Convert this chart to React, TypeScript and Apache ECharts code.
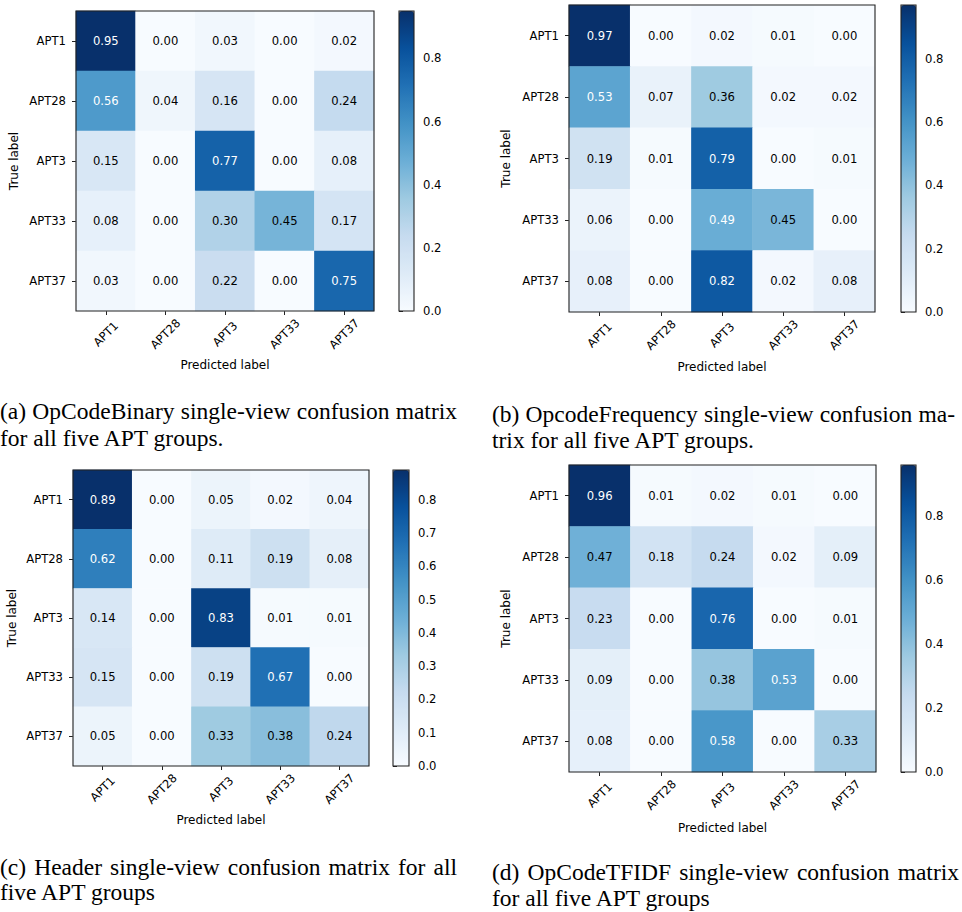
import React, { useEffect, useRef } from 'react';
import * as echarts from 'echarts';

const categories = ['APT1', 'APT28', 'APT3', 'APT33', 'APT37'];

const matrixA = [
  [0.95, 0.0, 0.03, 0.0, 0.02],
  [0.56, 0.04, 0.16, 0.0, 0.24],
  [0.15, 0.0, 0.77, 0.0, 0.08],
  [0.08, 0.0, 0.3, 0.45, 0.17],
  [0.03, 0.0, 0.22, 0.0, 0.75],
];
const matrixB = [
  [0.97, 0.0, 0.02, 0.01, 0.0],
  [0.53, 0.07, 0.36, 0.02, 0.02],
  [0.19, 0.01, 0.79, 0.0, 0.01],
  [0.06, 0.0, 0.49, 0.45, 0.0],
  [0.08, 0.0, 0.82, 0.02, 0.08],
];
const matrixC = [
  [0.89, 0.0, 0.05, 0.02, 0.04],
  [0.62, 0.0, 0.11, 0.19, 0.08],
  [0.14, 0.0, 0.83, 0.01, 0.01],
  [0.15, 0.0, 0.19, 0.67, 0.0],
  [0.05, 0.0, 0.33, 0.38, 0.24],
];
const matrixD = [
  [0.96, 0.01, 0.02, 0.01, 0.0],
  [0.47, 0.18, 0.24, 0.02, 0.09],
  [0.23, 0.0, 0.76, 0.0, 0.01],
  [0.09, 0.0, 0.38, 0.53, 0.0],
  [0.08, 0.0, 0.58, 0.0, 0.33],
];

const colorbarTicksA = [0, 0.2, 0.4, 0.6, 0.8];
const colorbarTicksB = [0, 0.2, 0.4, 0.6, 0.8];
const colorbarTicksC = [0, 0.1, 0.2, 0.3, 0.4, 0.5, 0.6, 0.7, 0.8];
const colorbarTicksD = [0, 0.2, 0.4, 0.6, 0.8];

const captionA = ['(a) OpCodeBinary single-view confusion matrix', 'for all five APT groups.'];
const captionB = ['(b) OpcodeFrequency single-view confusion ma-', 'trix for all five APT groups.'];
const captionC = ['(c) Header single-view confusion matrix for all', 'five APT groups'];
const captionD = ['(d) OpCodeTFIDF single-view confusion matrix', 'for all five APT groups'];

const BLUES = ['#f7fbff', '#deebf7', '#c6dbef', '#9ecae1', '#6baed6', '#4292c6', '#2171b5', '#08519c', '#08306b'];

const SANS = 'DejaVu Sans';
const SERIF = 'Liberation Serif';
const CAP_SIZE = 23.5;
const FS = 11.6;
const FRAME = '#222222';

// layout (positions / sizes only)
const panels = [
  { m: matrixA, ticks: colorbarTicksA, cap: captionA, grid: [76, 11, 298, 300], cb: [399, 11, 15, 300], xGap: 48, yGap: 56, capL: 0, capR: 457, capY: [411, 438] },
  { m: matrixB, ticks: colorbarTicksB, cap: captionB, grid: [569, 5, 306, 307], cb: [901, 5, 15, 307], xGap: 49, yGap: 57, capL: 492, capR: 955, capY: [414, 440] },
  { m: matrixC, ticks: colorbarTicksC, cap: captionC, grid: [73, 470, 296, 296], cb: [393, 470, 16, 296], xGap: 48, yGap: 55, capL: 0, capR: 457, capY: [867, 892] },
  { m: matrixD, ticks: colorbarTicksD, cap: captionD, grid: [569, 465, 307, 307], cb: [901, 465, 15, 307], xGap: 50, yGap: 57, capL: 492, capR: 959, capY: [872, 898] },
];

function measure(text: string, size: number): number {
  const c = document.createElement('canvas').getContext('2d');
  if (!c) return text.length * size * 0.45;
  c.font = `${size}px "${SERIF}"`;
  return c.measureText(text).width;
}

function captionElements(lines: string[], left: number, right: number, ys: number[]) {
  const els: any[] = [];
  lines.forEach((line, li) => {
    const y = ys[li];
    const last = li === lines.length - 1;
    if (last) {
      els.push({ type: 'text', x: left, y, style: { text: line, font: `${CAP_SIZE}px "${SERIF}"`, fill: '#000', textVerticalAlign: 'middle', textAlign: 'left' } });
      return;
    }
    const words = line.split(' ');
    const widths = words.map((w) => measure(w, CAP_SIZE));
    const total = widths.reduce((a, b) => a + b, 0);
    const gap = (right - left - total) / (words.length - 1);
    let x = left;
    words.forEach((w, i) => {
      els.push({ type: 'text', x, y, style: { text: w, font: `${CAP_SIZE}px "${SERIF}"`, fill: '#000', textVerticalAlign: 'middle', textAlign: 'left' } });
      x += widths[i] + gap;
    });
  });
  return els;
}

export default function App() {
  const ref = useRef<HTMLDivElement>(null);
  useEffect(() => {
    if (!ref.current) return;
    const chart = echarts.init(ref.current, undefined, { renderer: 'svg' });
    const grids: any[] = [];
    const xAxes: any[] = [];
    const yAxes: any[] = [];
    const series: any[] = [];
    const visualMaps: any[] = [];
    const graphics: any[] = [];

    panels.forEach((p, k) => {
      const maxVal = Math.max(...p.m.flat());
      const [gl, gt, gw, gh] = p.grid;
      grids.push({ left: gl, top: gt, width: gw, height: gh, containLabel: false });
      xAxes.push({
        type: 'category', gridIndex: k, data: categories, position: 'bottom',
        name: 'Predicted label', nameLocation: 'middle', nameGap: p.xGap,
        nameTextStyle: { fontFamily: SANS, fontSize: 12, color: '#000' },
        axisLine: { show: false },
        axisTick: { show: true, alignWithLabel: true, length: 4, lineStyle: { color: FRAME, width: 1 } },
        axisLabel: { rotate: 45, align: 'center', verticalAlign: 'middle', fontFamily: SANS, fontSize: FS, color: '#000', margin: 23 },
        splitLine: { show: false },
      });
      yAxes.push({
        type: 'category', gridIndex: k, data: categories, inverse: true,
        name: 'True label', nameLocation: 'middle', nameGap: p.yGap,
        nameTextStyle: { fontFamily: SANS, fontSize: 12, color: '#000' },
        axisLine: { show: false },
        axisTick: { show: true, alignWithLabel: true, length: 4, lineStyle: { color: FRAME, width: 1 } },
        axisLabel: { fontFamily: SANS, fontSize: FS, color: '#000', margin: 10 },
        splitLine: { show: false },
      });
      const data: any[] = [];
      p.m.forEach((row, i) => {
        row.forEach((v, j) => {
          data.push({ value: [j, i, v], label: { color: v > maxVal / 2 ? '#ffffff' : '#000000' } });
        });
      });
      series.push({
        type: 'heatmap', xAxisIndex: k, yAxisIndex: k, data,
        label: { show: true, fontFamily: SANS, fontSize: FS, formatter: (q: any) => q.value[2].toFixed(2) },
        itemStyle: { borderWidth: 0 },
        emphasis: { disabled: true },
      });
      const [cl, ct, cw, ch] = p.cb;
      visualMaps.push({
        type: 'continuous', seriesIndex: k, min: 0, max: maxVal, inRange: { color: BLUES },
        left: cl, top: ct, itemWidth: cw, itemHeight: ch, calculable: false, padding: 0,
        orient: 'vertical', hoverLink: false, showLabel: false,
      });
      graphics.push({ type: 'rect', z: 100, shape: { x: gl, y: gt, width: gw, height: gh }, style: { fill: 'none', stroke: FRAME, lineWidth: 1.1 } });
      graphics.push({ type: 'rect', z: 100, shape: { x: cl, y: ct, width: cw, height: ch }, style: { fill: 'none', stroke: FRAME, lineWidth: 1.1 } });
      graphics.push(...captionElements(p.cap, p.capL, p.capR, p.capY));
    });

    panels.forEach((p, k) => {
      const maxVal = Math.max(...p.m.flat());
      const [cl, ct, cw, ch] = p.cb;
      const gi = 4 + k;
      grids.push({ left: cl, top: ct, width: cw, height: ch, containLabel: false });
      xAxes.push({ type: 'value', gridIndex: gi, show: false, min: 0, max: 1 });
      yAxes.push({
        type: 'value', gridIndex: gi, position: 'right', min: 0, max: maxVal,
        interval: p.ticks[1] - p.ticks[0],
        axisLine: { show: false },
        splitLine: { show: false },
        axisTick: { show: true, length: 4, customValues: p.ticks, lineStyle: { color: FRAME, width: 1 } },
        axisLabel: { customValues: p.ticks, fontFamily: SANS, fontSize: FS, color: '#000', margin: 9, formatter: (v: number) => v.toFixed(1) },
      });
    });

    chart.setOption({
      animation: false,
      backgroundColor: '#ffffff',
      grid: grids,
      xAxis: xAxes,
      yAxis: yAxes,
      visualMap: visualMaps,
      series,
      graphic: graphics,
    });
    return () => chart.dispose();
  }, []);
  return <div ref={ref} style={{ position: 'absolute', left: 0, top: 0, width: 962, height: 912 }} />;
}
